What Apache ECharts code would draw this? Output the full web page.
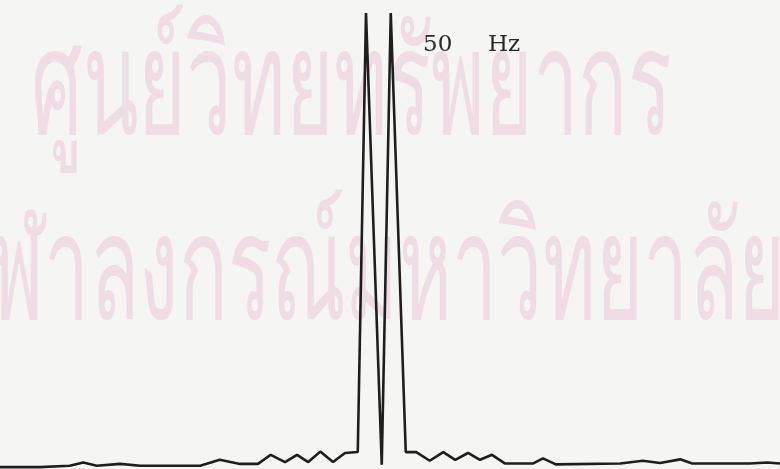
<!DOCTYPE html>
<html>
<head>
<meta charset="utf-8">
<script src="https://cdn.jsdelivr.net/npm/echarts@6/dist/echarts.min.js"></script>
<style>
  html, body { margin: 0; padding: 0; background: #f5f5f4; }
  #chart { width: 780px; height: 469px; }
</style>
</head>
<body>
<div id="chart"></div>
<script>
// Frequency (Hz) of each plotted sample of the spectrum trace
const freqHz = [
  0.0, 5.3, 9.3, 11.1, 12.9, 16.0, 18.7, 26.7, 29.3, 32.0, 34.4,
  36.1, 38.0, 39.6, 41.1, 42.7, 44.4, 46.0, 47.7,
  48.8, 50.9, 52.1,
  54.1, 55.5, 57.3, 59.1, 60.7, 62.4, 64.0, 65.6, 67.3, 71.1,
  72.4, 74.1, 82.7, 85.7, 88.0, 90.7, 92.3, 100.0, 102.3, 104.0
];
// Relative amplitude (percent of full scale) at each frequency
const amplitude = [
  0.2, 0.2, 0.5, 1.2, 0.5, 0.9, 0.5, 0.5, 1.8, 0.9, 0.9,
  2.9, 1.3, 2.9, 1.3, 3.6, 1.3, 3.3, 3.5,
  100, 0.7, 100,
  3.5, 3.5, 1.6, 3.5, 1.8, 3.3, 1.8, 2.9, 1.0, 1.0,
  2.1, 0.8, 1.0, 1.6, 1.1, 1.9, 1.0, 1.0, 1.2, 1.0
];
const peakLabel = ['50', 'Hz'];
const stampLines = ['ศูนย์วิทยทรัพยากร', 'จุฬาลงกรณ์มหาวิทยาลัย'];

const points = freqHz.map((f, i) => [f, amplitude[i]]);

// faint library stamp behind the trace
const stampStyle = (text) => ({
  text: text,
  font: '148px "Noto Sans"',
  fill: '#f0dce4',
  textVerticalAlign: 'top'
});

const chart = echarts.init(document.getElementById('chart'));
chart.setOption({
  backgroundColor: '#f5f5f4',
  animation: false,
  grid: { left: 0, right: 0, top: 13, bottom: 1 },
  xAxis: { type: 'value', min: 0, max: 104, show: false },
  yAxis: { type: 'value', min: 0, max: 100, show: false },
  graphic: [
    {
      type: 'text', x: 31, y: 18, scaleX: 0.55, z: 0, silent: true,
      style: stampStyle(stampLines[0])
    },
    {
      type: 'text', x: -58, y: 203, scaleX: 0.545, z: 0, silent: true,
      style: stampStyle(stampLines[1])
    },
    {
      type: 'text', left: 423, top: 34, z: 10,
      style: { text: peakLabel[0], font: '23px "DejaVu Serif"', fill: '#2a2a2a' }
    },
    {
      type: 'text', left: 488, top: 34, z: 10,
      style: { text: peakLabel[1], font: '23px "DejaVu Serif"', fill: '#2a2a2a' }
    }
  ],
  series: [{
    type: 'line',
    data: points,
    symbol: 'none',
    z: 5,
    lineStyle: { color: '#1e1e1e', width: 2.6, join: 'bevel' }
  }]
});
</script>
</body>
</html>
